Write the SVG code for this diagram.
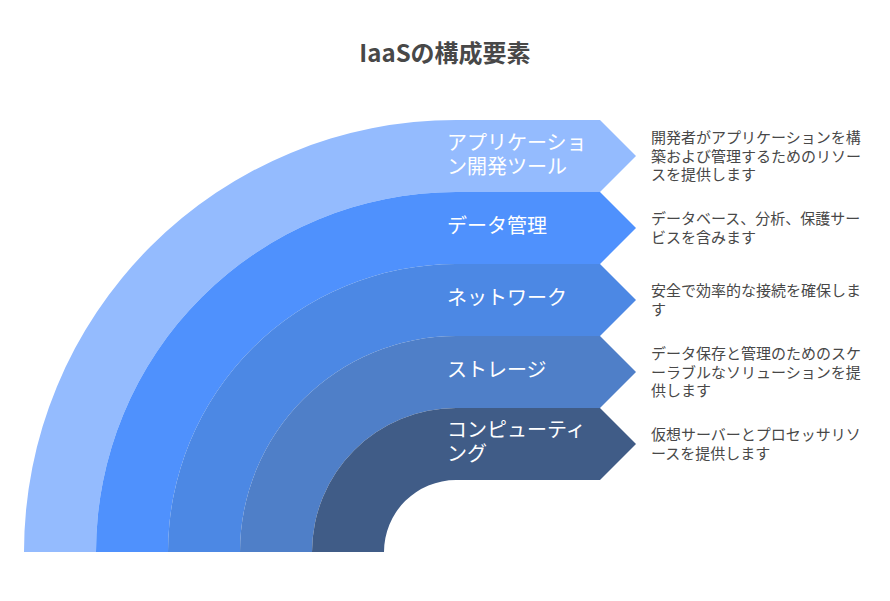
<svg xmlns="http://www.w3.org/2000/svg" width="890" height="601" viewBox="0 0 890 601">
<style>
text{font-family:"Noto Sans CJK JP","Noto Sans",sans-serif}
.t{font-size:24px;font-weight:bold;fill:#484848}
.l{font-size:20px;fill:#ffffff}
.d{font-size:15px;fill:#484848}
</style>
<rect width="890" height="601" fill="#ffffff"/>
<text class="t" x="445" y="62" text-anchor="middle">IaaSの構成要素</text>
<g id="band-app">
<path d="M24 552 A432 432 0 0 1 456 120 L600 120 L636 156 L600 192 L456 192 A360 360 0 0 0 96 552 Z" fill="#94BBFE"/>
<text class="l" x="447" y="150">アプリケーショ</text>
<text class="l" x="447" y="174">ン開発ツール</text>
</g>
<g id="band-data">
<path d="M96 552 A360 360 0 0 1 456 192 L600 192 L636 228 L600 264 L456 264 A288 288 0 0 0 168 552 Z" fill="#4F91FD"/>
<text class="l" x="447" y="233">データ管理</text>
</g>
<g id="band-net">
<path d="M168 552 A288 288 0 0 1 456 264 L600 264 L636 300 L600 336 L456 336 A216 216 0 0 0 240 552 Z" fill="#4C88E4"/>
<text class="l" x="447" y="305">ネットワーク</text>
</g>
<g id="band-storage">
<path d="M240 552 A216 216 0 0 1 456 336 L600 336 L636 372 L600 408 L456 408 A144 144 0 0 0 312 552 Z" fill="#4F7FC8"/>
<text class="l" x="447" y="377">ストレージ</text>
</g>
<g id="band-compute">
<path d="M312 552 A144 144 0 0 1 456 408 L600 408 L636 444 L600 480 L456 480 A72 72 0 0 0 384 552 Z" fill="#405C87"/>
<text class="l" x="447" y="437">コンピューティ</text>
<text class="l" x="447" y="461">ング</text>
</g>
<g id="desc-app">
<text class="d" x="651" y="143">開発者がアプリケーションを構</text>
<text class="d" x="651" y="161.5">築および管理するためのリソー</text>
<text class="d" x="651" y="180">スを提供します</text>
</g>
<g id="desc-data">
<text class="d" x="651" y="224">データベース、分析、保護サー</text>
<text class="d" x="651" y="242.5">ビスを含みます</text>
</g>
<g id="desc-net">
<text class="d" x="651" y="296">安全で効率的な接続を確保しま</text>
<text class="d" x="651" y="314.5">す</text>
</g>
<g id="desc-storage">
<text class="d" x="651" y="359">データ保存と管理のためのスケ</text>
<text class="d" x="651" y="377.5">ーラブルなソリューションを提</text>
<text class="d" x="651" y="396">供します</text>
</g>
<g id="desc-compute">
<text class="d" x="651" y="440">仮想サーバーとプロセッサリソ</text>
<text class="d" x="651" y="458.5">ースを提供します</text>
</g>
<g id="connectors"></g>
</svg>
